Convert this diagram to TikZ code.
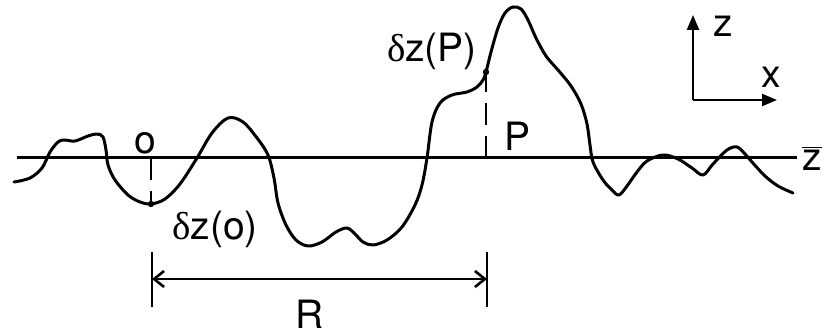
\documentclass[tikz,border=0pt]{standalone}
\usepackage{fontspec}
\setmainfont{TeX Gyre Heros}
\newfontfamily\symfont{Liberation Serif}
\usepackage{tikz}
\usepackage{xcolor}
\usetikzlibrary{arrows.meta,positioning,calc}
\definecolor{inkBlack}{RGB}{0,0,0}
\tikzset{
  surface/.style={line width=1.5pt, color=inkBlack, line join=round, line cap=round},
  meanline/.style={line width=1.5pt, color=inkBlack},
  height/.style={line width=1.4pt, color=inkBlack, dash pattern=on 11pt off 5.5pt},
  dotmark/.style={circle, fill=inkBlack, inner sep=0pt, minimum size=3.2pt},
  span/.style={{Straight Barb[length=5pt,width=8pt]}-{Straight Barb[length=5pt,width=8pt]}, line width=1.3pt},
  tick/.style={line width=1.3pt},
  axis/.style={-{Triangle[length=7.5pt,width=6pt]}, line width=1.3pt},
  lbl/.style={font=\fontsize{19.5}{22}\selectfont, inner sep=0pt}
}
\newcommand{\dz}[1]{{\symfont δ}z(#1)}

\begin{document}
\begin{tikzpicture}[x=0.5pt, y=-0.5pt]
  \useasboundingbox (0,0) rectangle (825,331);

  \coordinate (mL) at (17,158);
  \coordinate (mR) at (797,158);
  \draw[meanline] (mL) -- (mR);

  \draw[surface] plot[smooth, tension=0.55] coordinates {
    (14,182) (30,178) (42,168) (50,152) (58,142) (64,140) (75,141) (88,136)
    (97,134) (103,137) (106,150) (108,165) (115,180) (128,195) (140,202) (151,204)
    (165,199) (180,184) (197,158) (212,133) (228,118) (243,122) (257,138) (268,155)
    (274,178) (278,203) (286,225) (296,240) (308,246) (322,242) (336,232) (347,228)
    (355,234) (363,242) (373,245) (387,240) (402,227) (415,205) (422,185) (427,158)
    (432,122) (440,103) (452,95) (467,92) (477,87) (483,80) (486,72) (491,52)
    (498,28) (505,13) (513,7) (521,9) (528,20) (536,38) (546,56) (558,70)
    (571,86) (581,104) (587,124) (590,145) (593,162) (603,180) (612,190) (619,195)
    (627,186) (637,172) (647,161) (663,155) (678,159) (692,168) (703,175) (713,164)
    (727,150) (737,147) (745,154) (752,162) (765,176) (778,186) (793,193)};

  \coordinate (o) at (151,158);
  \node[dotmark] (oz) at (151,204) {};
  \coordinate (p) at (486,158);
  \node[dotmark] (pz) at (486,72) {};
  \draw[height] (o) -- (oz.center);
  \draw[height] (p) -- (pz.center);

  \node[lbl] (olbl) at (145,143) {o};
  \node[lbl] (plbl) at (518,136) {P};
  \node[lbl] (dzo) at (215,229) {\dz{o}};
  \node[lbl] (dzp) at (432,51) {\dz{P}};
  \node[lbl] (zbar) at (812,158) {$\overline{\mbox{z}}$};

  \coordinate (rLt) at (152,252);
  \coordinate (rLb) at (152,307);
  \coordinate (rRt) at (487,252);
  \coordinate (rRb) at (487,307);
  \coordinate (rL) at (152,279);
  \coordinate (rR) at (487,279);
  \draw[tick] (rLt) -- (rLb);
  \draw[tick] (rRt) -- (rRb);
  \draw[span] (rL) -- (rR);
  \node[lbl] (rlbl) at (310,314) {R};

  \coordinate (org) at (693,100);
  \coordinate (ztip) at (693,15);
  \coordinate (xtip) at (777,100);
  \draw[axis] (org) -- (ztip);
  \draw[axis] (org) -- (xtip);
  \node[lbl] (zlbl) at (723,26) {z};
  \node[lbl] (xlbl) at (771,77) {x};
\end{tikzpicture}
\end{document}
